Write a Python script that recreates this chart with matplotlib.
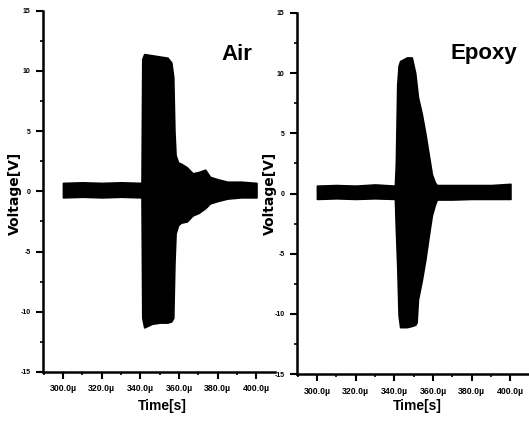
import numpy as np
import matplotlib
matplotlib.use("Agg")
import matplotlib.pyplot as plt
from matplotlib.ticker import MultipleLocator, FixedLocator

# envelope of the recorded signals, time in microseconds, voltage in V
air_t = [300, 310, 320, 330, 340.6, 341.0, 342, 346, 350, 354, 356, 357, 357.6, 358.2,
         359.5, 361, 364, 367, 370, 373.5, 376, 380, 385, 392, 400]
air_hi = [0.7, 0.75, 0.7, 0.75, 0.7, 11.0, 11.4, 11.3, 11.2, 11.1, 10.7, 9.5, 5.0, 3.0,
          2.4, 2.3, 2.0, 1.5, 1.6, 1.8, 1.2, 1.0, 0.8, 0.8, 0.7]
air_lo = [-0.5, -0.45, -0.5, -0.45, -0.5, -10.5, -11.3, -11.0, -10.9, -10.9, -10.8, -10.5, -6.0, -3.5,
          -2.8, -2.6, -2.5, -2.0, -1.8, -1.4, -1.0, -0.8, -0.6, -0.5, -0.5]

ep_t = [300, 310, 320, 330, 340.3, 340.8, 341.5, 342.2, 343, 346.5, 349, 350.8, 351.5, 352.2,
        354.2, 356, 357.7, 359.4, 361, 362, 370, 380, 390, 400]
ep_hi = [0.65, 0.7, 0.65, 0.75, 0.65, 2.5, 9.0, 10.6, 11.0, 11.3, 11.3, 10.0, 9.0, 8.0,
         6.6, 5.0, 3.3, 1.6, 0.9, 0.7, 0.7, 0.7, 0.7, 0.8]
ep_lo = [-0.45, -0.4, -0.45, -0.4, -0.45, -3.0, -6.0, -10.1, -11.1, -11.1, -11.0, -10.9, -10.7, -8.8,
         -7.2, -5.5, -3.6, -1.8, -0.9, -0.5, -0.5, -0.45, -0.45, -0.45]

xticks = [300, 320, 340, 360, 380, 400]
xtick_labels = ["300.0\u00b5", "320.0\u00b5", "340.0\u00b5", "360.0\u00b5", "380.0\u00b5", "400.0\u00b5"]
yticks = [-15, -10, -5, 0, 5, 10, 15]

narrow = ["Liberation Sans", "DejaVu Sans"]

fig = plt.figure(figsize=(5.29, 4.30), dpi=100)
ax1 = fig.add_axes([0.0813, 0.135, 0.439, 0.840])
ax2 = fig.add_axes([0.5614, 0.130, 0.439, 0.840])

panels = [(ax1, air_t, air_hi, air_lo, "Air", 221), (ax2, ep_t, ep_hi, ep_lo, "Epoxy", 450)]
for ax, t, hi, lo, name, tx in panels:
    ax.fill_between(t, lo, hi, color="black", lw=1.2, edgecolor="black")
    ax.set_xlim(289.7, 409.7)
    ax.set_ylim(-15, 15)
    for s in ["top", "right"]:
        ax.spines[s].set_visible(False)
    for s in ["left", "bottom"]:
        ax.spines[s].set_linewidth(1.8)
    ax.xaxis.set_major_locator(FixedLocator(xticks))
    ax.set_xticklabels(xtick_labels, family=narrow, fontweight="bold", fontsize=6.3)
    ax.xaxis.set_minor_locator(MultipleLocator(10))
    ax.set_yticks(yticks)
    ax.set_yticklabels([str(v) for v in yticks], family=narrow, fontweight="bold", fontsize=5)
    ax.yaxis.set_minor_locator(MultipleLocator(2.5))
    ax.tick_params(which="major", direction="out", length=5, width=1.5, pad=4)
    ax.tick_params(which="minor", direction="out", length=2.5, width=1.2)
    fig.text(tx / 529, 1 - 54 / 430, name, family=narrow, fontweight="bold",
             fontsize=16, ha="left", va="center")

fig.text(15 / 529, 1 - 193 / 430, "Voltage[V]", rotation=90, ha="center", va="center",
         fontsize=10, fontweight="bold")
fig.text(270 / 529, 1 - 193 / 430, "Voltage[V]", rotation=90, ha="center", va="center",
         fontsize=10, fontweight="bold")
fig.text(162 / 529, 1 - 406 / 430, "Time[s]", ha="center", va="center",
         family=narrow, fontsize=10, fontweight="bold")
fig.text(417 / 529, 1 - 406 / 430, "Time[s]", ha="center", va="center",
         family=narrow, fontsize=10, fontweight="bold")

fig.savefig("out.png", dpi=100)
